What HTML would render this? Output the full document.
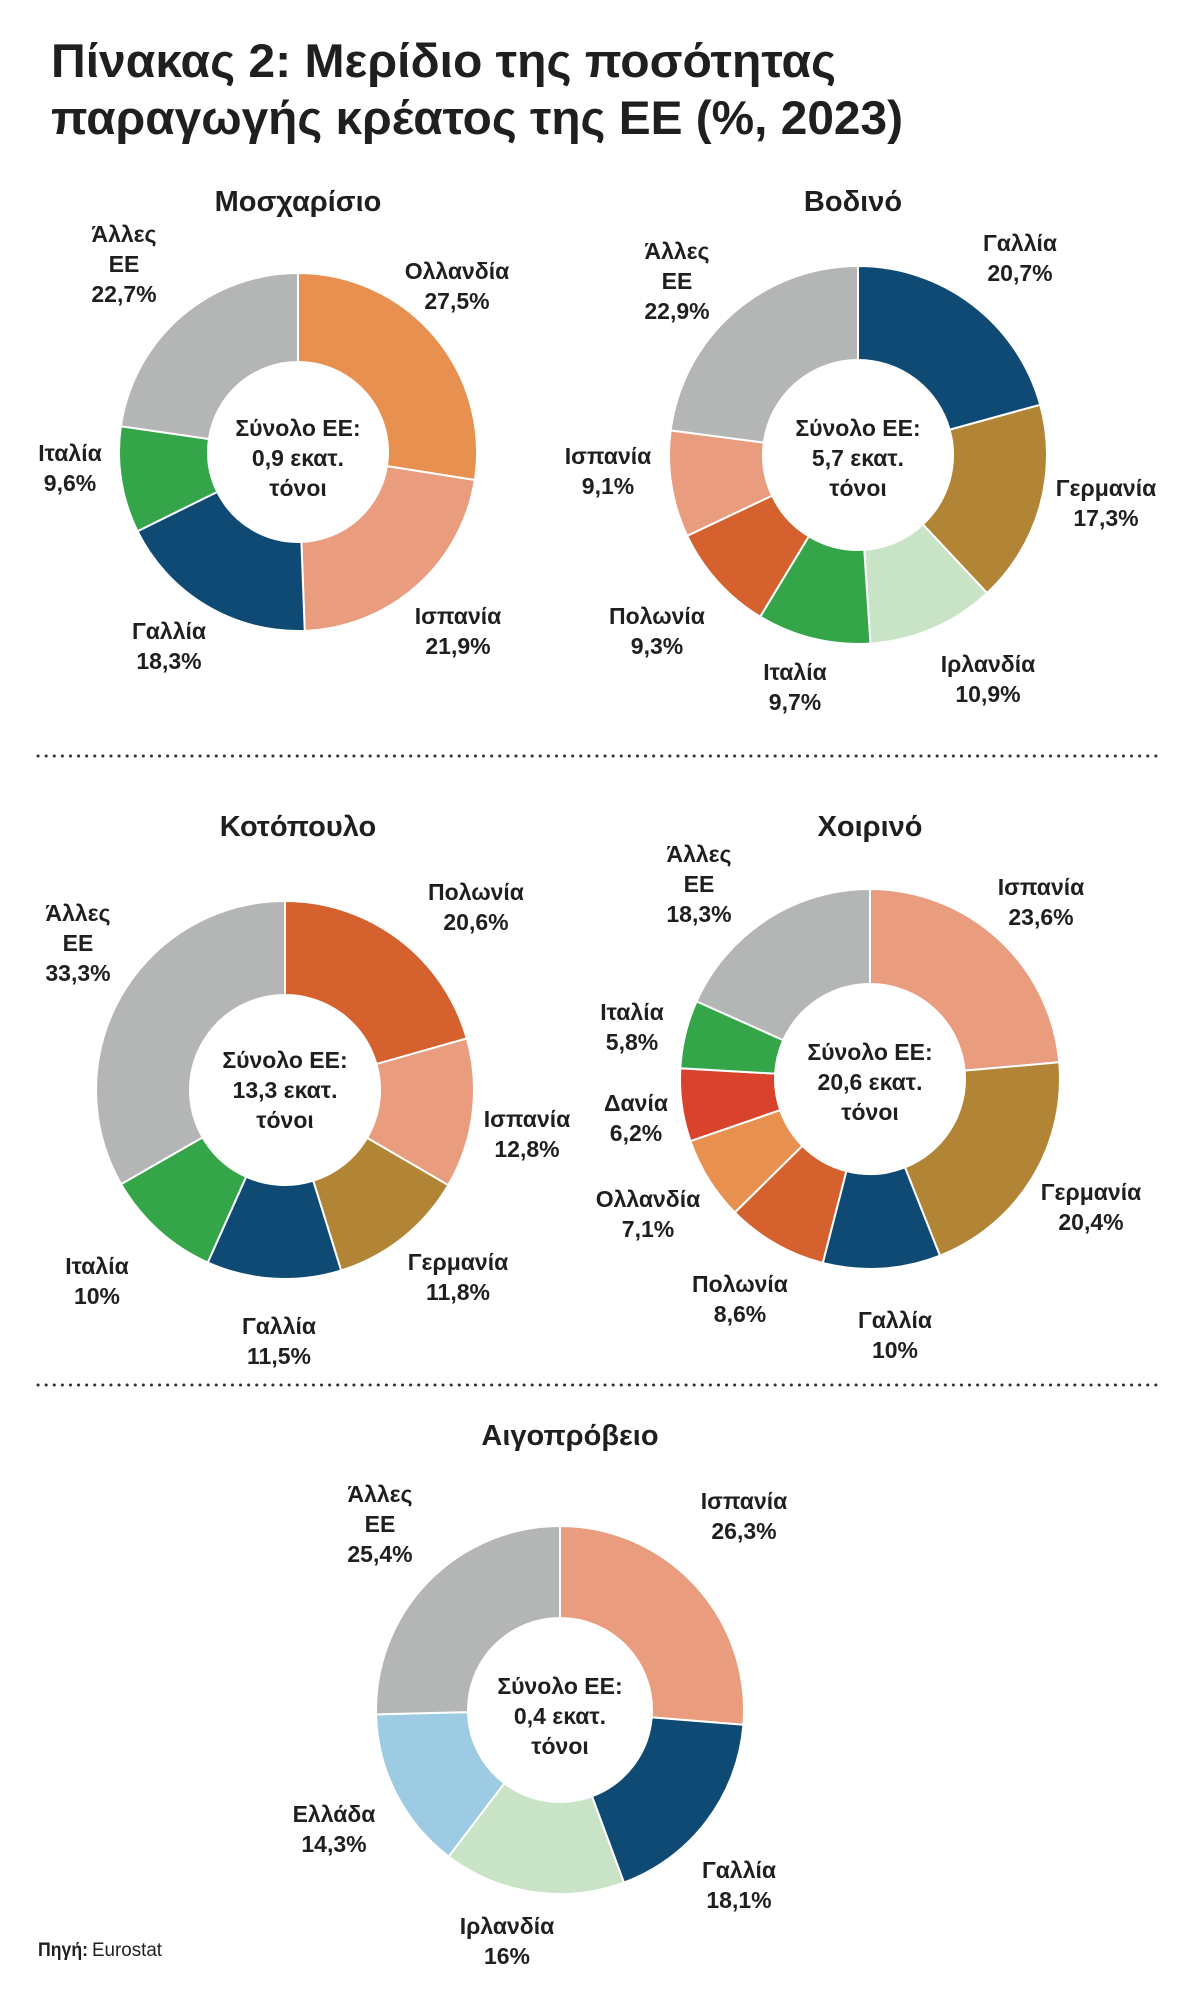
<!DOCTYPE html>
<html><head><meta charset="utf-8"><style>
html,body{margin:0;padding:0;background:#fff;}
svg{display:block;}
text{font-family:"Liberation Sans","Noto Sans CJK SC",sans-serif;font-weight:bold;fill:#1f1f1f;}
</style></head><body>
<svg id="s" width="1200" height="2000" viewBox="0 0 1200 2000" xmlns="http://www.w3.org/2000/svg">
<rect width="1200" height="2000" fill="#fff"/>
<text x="51" y="77" font-size="47" textLength="785" lengthAdjust="spacingAndGlyphs">Πίνακας 2: Μερίδιο της ποσότητας</text>
<text x="51" y="134" font-size="47" textLength="852" lengthAdjust="spacingAndGlyphs">παραγωγής κρέατος της ΕΕ (%, 2023)</text>
<line x1="38" y1="756" x2="1162" y2="756" stroke="#333" stroke-width="3" stroke-dasharray="0.1 8" stroke-linecap="round"/>
<line x1="38" y1="1385" x2="1162" y2="1385" stroke="#333" stroke-width="3" stroke-dasharray="0.1 8" stroke-linecap="round"/>
<g id="charts"></g>
<g font-size="23" text-anchor="middle" id="labels">
<text x="298" y="211" font-size="29">Μοσχαρίσιο</text>
<text x="853" y="211" font-size="29">Βοδινό</text>
<text x="298" y="836" font-size="29">Κοτόπουλο</text>
<text x="870" y="836" font-size="29">Χοιρινό</text>
<text x="570" y="1445" font-size="29">Αιγοπρόβειο</text>
</g>
<text x="38" y="1956" font-size="19" style="font-weight:bold" textLength="50" lengthAdjust="spacingAndGlyphs">Πηγή:</text>
<text x="92" y="1956" font-size="19" style="font-weight:normal" textLength="70" lengthAdjust="spacingAndGlyphs">Eurostat</text>
</svg>
<script>
var NS="http://www.w3.org/2000/svg";
var C={gray:"#b3b6b5",navy:"#0e4a73",orange:"#e8904f",salmon:"#e99c7e",green:"#35a54a",gold:"#b28435",lgreen:"#c8e3c6",rust:"#d5612e",red:"#d9432e",lblue:"#9ccbe3"};
var charts=[
 {cx:298,cy:452,R:179,r:90,s:[[27.5,"orange"],[21.9,"salmon"],[18.3,"navy"],[9.6,"green"],[22.7,"gray"]],
  c:["Σύνολο ΕΕ:","0,9 εκατ.","τόνοι"],cy0:436,
  L:[[124,242,["Άλλες","ΕΕ","22,7%"]],[457,279,["Ολλανδία","27,5%"]],[70,461,["Ιταλία","9,6%"]],[169,639,["Γαλλία","18,3%"]],[458,624,["Ισπανία","21,9%"]]]},
 {cx:858,cy:455,R:189,r:95,s:[[20.7,"navy"],[17.3,"gold"],[10.9,"lgreen"],[9.7,"green"],[9.3,"rust"],[9.1,"salmon"],[22.9,"gray"]],
  c:["Σύνολο ΕΕ:","5,7 εκατ.","τόνοι"],cy0:436,
  L:[[677,259,["Άλλες","ΕΕ","22,9%"]],[1020,251,["Γαλλία","20,7%"]],[1106,496,["Γερμανία","17,3%"]],[988,672,["Ιρλανδία","10,9%"]],[795,680,["Ιταλία","9,7%"]],[657,624,["Πολωνία","9,3%"]],[608,464,["Ισπανία","9,1%"]]]},
 {cx:285,cy:1090,R:189,r:95,s:[[20.6,"rust"],[12.8,"salmon"],[11.8,"gold"],[11.5,"navy"],[10,"green"],[33.3,"gray"]],
  c:["Σύνολο ΕΕ:","13,3 εκατ.","τόνοι"],cy0:1068,
  L:[[476,900,["Πολωνία","20,6%"]],[78,921,["Άλλες","ΕΕ","33,3%"]],[527,1127,["Ισπανία","12,8%"]],[458,1270,["Γερμανία","11,8%"]],[279,1334,["Γαλλία","11,5%"]],[97,1274,["Ιταλία","10%"]]]},
 {cx:870,cy:1079,R:190,r:95,s:[[23.6,"salmon"],[20.4,"gold"],[10,"navy"],[8.6,"rust"],[7.1,"orange"],[6.2,"red"],[5.8,"green"],[18.3,"gray"]],
  c:["Σύνολο ΕΕ:","20,6 εκατ.","τόνοι"],cy0:1060,
  L:[[699,862,["Άλλες","ΕΕ","18,3%"]],[1041,895,["Ισπανία","23,6%"]],[632,1020,["Ιταλία","5,8%"]],[636,1111,["Δανία","6,2%"]],[648,1207,["Ολλανδία","7,1%"]],[740,1292,["Πολωνία","8,6%"]],[895,1328,["Γαλλία","10%"]],[1091,1200,["Γερμανία","20,4%"]]]},
 {cx:560,cy:1710,R:184,r:92,s:[[26.3,"salmon"],[18.1,"navy"],[16,"lgreen"],[14.3,"lblue"],[25.4,"gray"]],
  c:["Σύνολο ΕΕ:","0,4 εκατ.","τόνοι"],cy0:1694,
  L:[[380,1502,["Άλλες","ΕΕ","25,4%"]],[744,1509,["Ισπανία","26,3%"]],[334,1822,["Ελλάδα","14,3%"]],[739,1878,["Γαλλία","18,1%"]],[507,1934,["Ιρλανδία","16%"]]]}
];
var g=document.getElementById("charts"),lg=document.getElementById("labels");
function pt(cx,cy,rad,a){return [cx+rad*Math.sin(a),cy-rad*Math.cos(a)];}
function txt(x,y,t,parent){var e=document.createElementNS(NS,"text");e.setAttribute("x",x);e.setAttribute("y",y);e.textContent=t;parent.appendChild(e);}
charts.forEach(function(ch){
 var tot=0;ch.s.forEach(function(s){tot+=s[0];});
 var a0=0;
 ch.s.forEach(function(s){
  var a1=a0+s[0]/tot*2*Math.PI;
  var p1=pt(ch.cx,ch.cy,ch.R,a0),p2=pt(ch.cx,ch.cy,ch.R,a1),p3=pt(ch.cx,ch.cy,ch.r,a1),p4=pt(ch.cx,ch.cy,ch.r,a0);
  var lf=(a1-a0)>Math.PI?1:0;
  var d="M"+p1+" A"+ch.R+" "+ch.R+" 0 "+lf+" 1 "+p2+" L"+p3+" A"+ch.r+" "+ch.r+" 0 "+lf+" 0 "+p4+"Z";
  var p=document.createElementNS(NS,"path");p.setAttribute("d",d);p.setAttribute("fill",C[s[1]]);
  p.setAttribute("stroke","#fff");p.setAttribute("stroke-width","2");p.setAttribute("stroke-linejoin","round");
  g.appendChild(p);a0=a1;
 });
 ch.c.forEach(function(t,i){txt(ch.cx,ch.cy0+i*30,t,lg);});
 ch.L.forEach(function(l){l[2].forEach(function(t,i){txt(l[0],l[1]+i*30,t,lg);});});
});
</script>
</body></html>
